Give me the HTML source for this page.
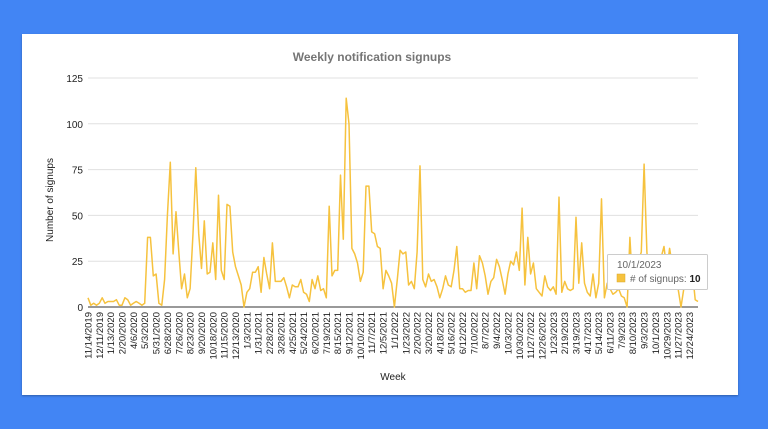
<!DOCTYPE html>
<html><head><meta charset="utf-8">
<style>
html,body{margin:0;padding:0;width:768px;height:429px;background:#4285f4;overflow:hidden;font-family:"Liberation Sans",Arial,sans-serif}
#card{position:absolute;left:22px;top:34px;width:716px;height:361px;background:#fff;box-shadow:0 1px 2px rgba(0,0,0,.3)}
svg{position:absolute;left:0;top:0}
</style></head>
<body>
<div id="card"></div>
<svg id="chart" width="768" height="429"></svg>
<script>
const yTicks=[0,25,50,75,100,125];
const xLabels=["11/14/2019","12/11/2019","1/13/2020","2/20/2020","4/6/2020","5/3/2020","5/31/2020","6/28/2020","7/26/2020","8/23/2020","9/20/2020","10/18/2020","11/15/2020","12/13/2020","1/3/2021","1/31/2021","2/28/2021","3/28/2021","4/25/2021","5/24/2021","6/20/2021","7/19/2021","8/15/2021","9/12/2021","10/10/2021","11/7/2021","12/5/2021","1/1/2022","1/23/2022","2/20/2022","3/20/2022","4/18/2022","5/16/2022","6/12/2022","7/10/2022","8/7/2022","9/4/2022","10/3/2022","10/30/2022","11/27/2022","12/26/2022","1/23/2023","2/19/2023","3/19/2023","4/17/2023","5/14/2023","6/11/2023","7/9/2023","8/10/2023","9/3/2023","10/1/2023","10/29/2023","11/27/2023","12/24/2023"];
const signups=[5,1,2,1,2,5,2,3,3,3,4,1,1,5,4,1,2,3,2,1,2,
38,38,17,18,2,1,15,50,79,29,52,30,10,18,5,10,40,76,40,21,47,18,19,35,15,61,20,15,56,55,30,22,17,12,0,
8,10,19,19,22,8,27,18,10,35,14,14,14,16,11,5,12,11,11,15,8,7,3,15,10,17,9,10,5,55,17,20,20,72,37,114,100,32,29,24,14,19,66,66,41,40,33,32,10,20,17,13,0,15,
31,29,30,12,14,10,30,77,15,11,18,14,15,11,5,10,17,12,11,20,33,10,10,8,9,9,24,10,28,24,17,7,14,16,26,22,15,7,18,25,23,30,20,54,12,38,18,24,10,8,6,17,11,9,11,7,60,8,14,10,9,10,49,13,35,13,8,6,18,5,13,59,5,
13,10,7,8,10,6,5,0,38,10,15,25,30,78,30,12,20,25,10,27,33,20,32,22,15,10,0,10,12,10,20,4,3];
const tipDate="10/1/2023", tipValue=10;

const NS="http://www.w3.org/2000/svg";
const svg=document.getElementById('chart');
const L=88,R=698,T=78,B=307,maxY=125;
const xs=i=>L+i*(R-L)/(signups.length-1);
const ys=v=>B-v*(B-T)/maxY;
function mk(t,a,txt){const e=document.createElementNS(NS,t);for(const k in a)e.setAttribute(k,a[k]);if(txt!==undefined)e.textContent=txt;svg.appendChild(e);return e;}

let e=mk('text',{x:372,y:61,'text-anchor':'middle','font-size':12,'font-weight':'bold',fill:'#757575'},'Weekly notification signups');



yTicks.forEach(v=>{
  let g=mk('line',{x1:L,x2:R,y1:ys(v),y2:ys(v),stroke:v===0?'#333':'#e0e0e0','stroke-width':1});
  
  
  let t=mk('text',{x:83,y:ys(v)+4,'text-anchor':'end','font-size':10,fill:'#222'},v);
  
  
});

xLabels.forEach((s,k)=>{
  const x=xs(k*4)+3.5;
  let t=mk('text',{x:x,y:312,'text-anchor':'end','font-size':9.5,fill:'#222',transform:`rotate(-90 ${x} 312)`},s);
  
  
});

e=mk('text',{x:53,y:200,'text-anchor':'middle','font-size':10,fill:'#222',transform:'rotate(-90 53 200)'},'Number of signups');


e=mk('text',{x:393,y:380,'text-anchor':'middle','font-size':10,fill:'#222'},'Week');



const pts=signups.map((v,i)=>xs(i).toFixed(1)+','+ys(v).toFixed(1)).join(' ');
e=mk('polyline',{points:pts,fill:'none',stroke:'#f6c23e','stroke-width':1.5,'stroke-linejoin':'round'});



// tooltip
e=mk('rect',{x:607.5,y:254.5,width:100,height:35,fill:'#fff',stroke:'#ccc','stroke-width':1,rx:1});


e=mk('text',{x:617,y:268,'font-size':10,fill:'#666'},tipDate);


e=mk('rect',{x:617,y:274,width:8,height:8,fill:'#f6c23e',stroke:'#d9a82a','stroke-width':.5});


e=mk('text',{x:630,y:282,'font-size':10,fill:'#666'});


e.innerHTML='# of signups: <tspan font-weight="bold" fill="#222">'+tipValue+'</tspan>';
</script>
</body></html>
